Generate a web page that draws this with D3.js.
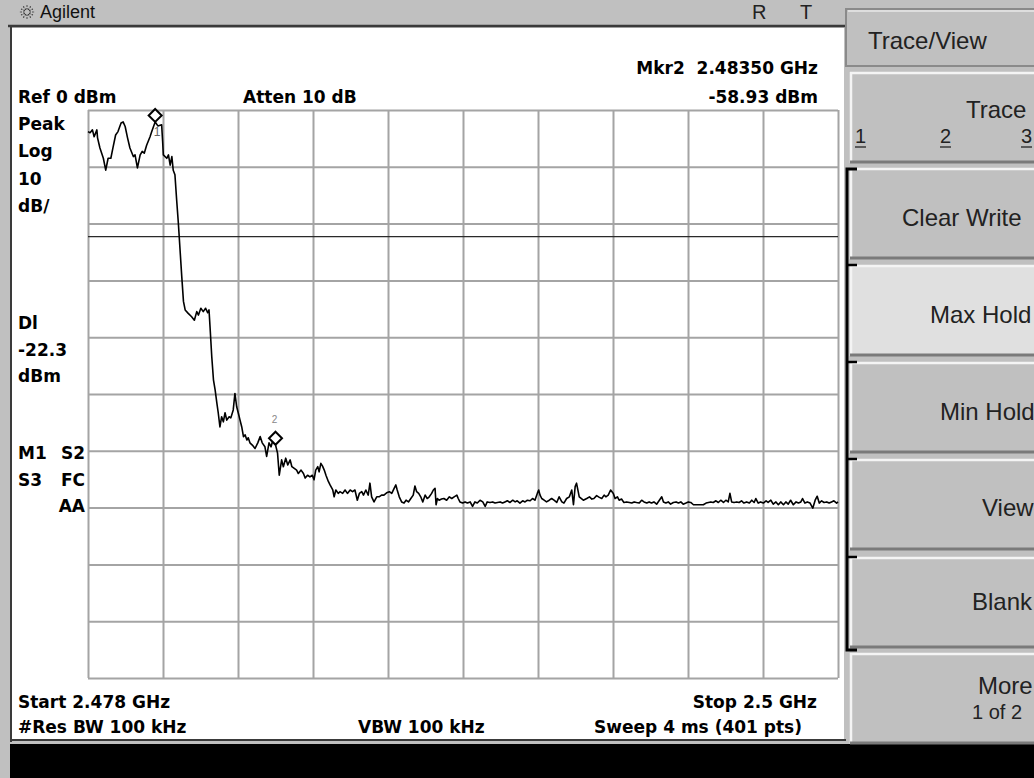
<!DOCTYPE html>
<html><head><meta charset="utf-8">
<script src="https://cdn.jsdelivr.net/npm/d3@7"></script>
<style>body{margin:0;background:#c0c0c0;overflow:hidden}svg{display:block}text{white-space:pre}</style>
</head><body><svg id="c" width="1034" height="778"></svg>
<script>
// ---- instrument settings ----
const startFreqMHz = 2478, stopFreqMHz = 2500;
const refLevelDbm = 0, dbPerDiv = 10, numDivs = 10;
const displayLineDbm = -22.3;

// ---- trace (frequency in MHz, level in dBm) ----
const traceFreqMHz = [
2478.00,2478.06,2478.13,2478.18,2478.26,2478.28,2478.35,2478.45,2478.52,2478.59,
2478.67,2478.73,2478.81,2478.88,2478.97,2479.03,2479.09,2479.16,2479.23,2479.33,
2479.38,2479.45,2479.53,2479.59,2479.65,2479.72,2479.82,2479.87,2479.97,2480.05,
2480.16,2480.19,2480.21,2480.31,2480.36,2480.41,2480.46,2480.50,2480.55,2480.60,
2480.65,2480.70,2480.75,2480.80,2480.85,2480.94,2481.04,2481.12,2481.19,2481.24,
2481.31,2481.38,2481.45,2481.51,2481.55,2481.58,2481.63,2481.68,2481.73,2481.78,
2481.82,2481.87,2481.92,2481.97,2482.02,2482.07,2482.14,2482.19,2482.26,2482.31,
2482.36,2482.41,2482.46,2482.51,2482.56,2482.61,2482.66,2482.70,2482.75,2482.82,
2482.90,2482.98,2483.05,2483.11,2483.19,2483.24,2483.31,2483.37,2483.41,2483.50,
2483.56,2483.61,2483.68,2483.73,2483.80,2483.86,2483.93,2483.98,2484.05,2484.12,
2484.17,2484.25,2484.32,2484.37,2484.44,2484.51,2484.58,2484.63,2484.68,2484.74,
2484.78,2484.83,2484.88,2484.93,2484.98,2485.05,2485.10,2485.18,2485.22,2485.27,
2485.34,2485.39,2485.47,2485.54,2485.61,2485.69,2485.76,2485.83,2485.90,2485.96,
2486.03,2486.08,2486.15,2486.22,2486.27,2486.32,2486.39,2486.47,2486.54,2486.61,
2486.68,2486.76,2486.84,2486.91,2486.98,2487.03,2487.07,2487.13,2487.20,2487.27,
2487.33,2487.40,2487.47,2487.54,2487.59,2487.64,2487.70,2487.76,2487.82,2487.89,
2487.95,2488.01,2488.08,2488.13,2488.18,2488.21,2488.25,2488.30,2488.37,2488.44,
2488.52,2488.60,2488.67,2488.74,2488.82,2488.86,2488.91,2488.99,2489.06,2489.13,
2489.21,2489.28,2489.35,2489.42,2489.50,2489.58,2489.65,2489.71,2489.79,2489.87,
2489.94,2490.01,2490.09,2490.16,2490.23,2490.30,2490.38,2490.46,2490.53,2490.59,
2490.67,2490.75,2490.82,2490.89,2490.97,2491.04,2491.11,2491.18,2491.22,2491.26,
2491.31,2491.38,2491.45,2491.53,2491.60,2491.67,2491.75,2491.82,2491.90,2491.96,
2492.04,2492.12,2492.19,2492.24,2492.29,2492.33,2492.41,2492.53,2492.63,2492.71,
2492.78,2492.84,2492.92,2493.00,2493.07,2493.14,2493.19,2493.26,2493.33,2493.37,
2493.41,2493.46,2493.53,2493.58,2493.65,2493.72,2493.80,2493.88,2493.95,2494.02,
2494.09,2494.17,2494.24,2494.31,2494.39,2494.46,2494.53,2494.60,2494.68,2494.76,
2494.83,2494.88,2494.95,2495.02,2495.09,2495.17,2495.25,2495.32,2495.39,2495.46,
2495.54,2495.61,2495.68,2495.76,2495.83,2495.90,2495.97,2496.05,2496.13,2496.20,
2496.27,2496.34,2496.42,2496.49,2496.56,2496.64,2496.71,2496.78,2496.83,2496.88,
2496.95,2497.03,2497.10,2497.17,2497.24,2497.32,2497.40,2497.47,2497.54,2497.59,
2497.66,2497.73,2497.81,2497.89,2497.95,2498.03,2498.10,2498.18,2498.25,2498.32,
2498.40,2498.47,2498.54,2498.61,2498.69,2498.77,2498.84,2498.91,2498.96,2499.03,
2499.10,2499.18,2499.26,2499.33,2499.39,2499.45,2499.52,2499.59,2499.67,2499.74,
2499.81,2499.88,2499.96,2500.00];
const traceLevelDbm = [
-3.8,-4.0,-3.5,-4.7,-3.5,-4.9,-6.7,-8.5,-10.6,-8.5,
-8.5,-6.7,-4.4,-3.8,-2.3,-2.1,-2.9,-4.9,-6.7,-8.2,
-7.9,-10.2,-7.9,-7.3,-7.6,-6.2,-4.7,-3.8,-2.1,-2.8,
-2.6,-5.6,-7.9,-8.5,-7.9,-9.7,-8.2,-10.6,-11.4,-15.8,
-19.9,-24.6,-29.3,-33.7,-35.2,-35.8,-36.4,-37.0,-35.5,-36.1,
-34.9,-35.5,-34.9,-35.7,-35.2,-38.2,-43.4,-47.5,-49.3,-51.6,
-53.3,-55.8,-54.0,-54.9,-53.3,-54.6,-54.0,-54.2,-52.8,-49.9,
-52.2,-53.4,-54.6,-55.8,-57.5,-57.2,-58.1,-57.7,-58.6,-59.0,
-59.6,-58.6,-57.5,-58.6,-59.3,-61.0,-58.6,-59.3,-58.4,-58.93,
-60.4,-64.3,-61.6,-62.8,-61.3,-62.5,-61.6,-62.8,-63.1,-63.4,
-64.0,-63.4,-64.0,-64.8,-64.3,-64.6,-64.3,-65.1,-63.4,-62.8,
-63.7,-62.2,-62.7,-63.4,-64.3,-65.4,-66.0,-66.9,-68.1,-66.9,
-67.5,-67.2,-67.5,-66.9,-67.5,-66.9,-67.2,-66.9,-68.7,-67.5,
-67.2,-67.8,-66.9,-67.8,-65.7,-68.1,-69.0,-68.1,-68.1,-67.8,
-67.8,-67.4,-67.2,-67.5,-66.6,-66.0,-66.9,-68.1,-69.0,-69.2,
-68.7,-69.0,-68.4,-67.8,-66.2,-67.2,-67.5,-68.1,-69.0,-67.8,
-68.4,-68.1,-67.5,-66.9,-66.6,-69.5,-68.4,-68.7,-68.5,-68.4,
-68.7,-68.1,-68.4,-68.1,-67.8,-68.4,-69.0,-69.2,-69.0,-69.2,
-69.0,-69.8,-69.0,-69.2,-68.7,-69.0,-69.8,-69.0,-69.1,-69.0,
-69.2,-69.1,-69.0,-69.2,-69.0,-68.8,-69.1,-68.7,-69.0,-68.8,
-69.2,-68.8,-69.0,-68.7,-68.8,-68.4,-68.7,-67.5,-66.9,-67.8,
-68.4,-68.7,-69.0,-68.7,-68.4,-68.7,-69.1,-68.1,-69.0,-69.2,
-68.4,-68.1,-66.9,-69.5,-66.3,-65.7,-68.1,-68.7,-68.4,-68.1,
-68.5,-68.4,-67.9,-68.2,-68.4,-67.8,-68.1,-67.8,-66.9,-67.2,
-67.5,-68.4,-68.1,-68.7,-68.5,-69.1,-69.0,-69.1,-69.2,-69.0,
-69.1,-69.2,-68.7,-69.0,-69.2,-69.0,-69.2,-69.0,-69.4,-68.7,
-68.1,-69.0,-69.2,-69.0,-69.4,-69.1,-69.0,-69.2,-69.0,-69.4,
-69.2,-69.0,-69.1,-69.5,-69.5,-69.5,-69.5,-69.5,-69.2,-69.1,
-69.0,-69.1,-68.8,-69.1,-68.7,-69.1,-68.7,-69.0,-67.5,-69.0,
-69.1,-69.0,-69.1,-68.8,-69.2,-69.0,-69.2,-68.7,-69.1,-68.4,
-69.2,-69.0,-69.2,-68.8,-69.1,-68.7,-69.4,-69.0,-69.5,-69.0,
-69.5,-69.0,-69.4,-68.7,-69.5,-69.0,-69.2,-69.0,-68.4,-69.2,
-69.0,-69.2,-70.1,-68.7,-68.0,-69.2,-68.8,-69.1,-69.0,-69.2,
-69.0,-68.8,-69.2,-69.0];

// ---- markers ----
const markerNames = ["1", "2"];
const markerFreqMHz = [2479.97, 2483.50];
const markerLevelDbm = [-2.1, -58.93];

// ---- annotation texts ----
const topRightLines = ["Mkr2  2.48350 GHz", "-58.93 dBm"];
const leftUpperLines = ["Peak", "Log", "10", "dB/"];
const leftDlLines = ["Dl", "-22.3", "dBm"];
const leftStatusRows = [["M1", "S2"], ["S3", "FC"], ["", "AA"]];
const bottomLeftLines = ["Start 2.478 GHz", "#Res BW 100 kHz"];
const softkeyTitle = "Trace/View";
const softkeyLabels = ["Trace", "Clear Write", "Max Hold", "Min Hold", "View", "Blank", "More"];
const traceNumbers = ["1", "2", "3"];

// ================= drawing =================
const svg = d3.select("#c");
const FONT_B = "'DejaVu Sans', sans-serif";
const FONT_K = "'Liberation Sans', Arial, sans-serif";
const x = d3.scaleLinear().domain([startFreqMHz, stopFreqMHz]).range([88, 838]);
const y = d3.scaleLinear().domain([refLevelDbm, refLevelDbm - dbPerDiv * numDivs]).range([110, 678]);

// frame
svg.append("rect").attr("width", 1034).attr("height", 778).attr("fill", "#c0c0c0");
svg.append("rect").attr("x", 12).attr("y", 28).attr("width", 832).attr("height", 712).attr("fill", "#ffffff");
svg.append("line").attr("x1", 8).attr("x2", 846).attr("y1", 26).attr("y2", 26).attr("stroke", "#3a3a3a").attr("stroke-width", 2.5);
svg.append("line").attr("x1", 11).attr("x2", 11).attr("y1", 26).attr("y2", 742).attr("stroke", "#3a3a3a").attr("stroke-width", 2);
svg.append("line").attr("x1", 10).attr("x2", 846).attr("y1", 740).attr("y2", 740).attr("stroke", "#3a3a3a").attr("stroke-width", 2);
svg.append("rect").attr("x", 10).attr("y", 744).attr("width", 1024).attr("height", 34).attr("fill", "#000");

// title bar
const logo = svg.append("g").attr("transform", "translate(27,12)");
d3.range(12).forEach(i => {
  const a = i * Math.PI / 6;
  logo.append("line").attr("x1", Math.cos(a) * 2.5).attr("y1", Math.sin(a) * 2.5)
    .attr("x2", Math.cos(a) * 8).attr("y2", Math.sin(a) * 7)
    .attr("stroke", "#333").attr("stroke-width", 1.1).attr("stroke-dasharray", "1.5,1.2");
});
svg.append("text").attr("x", 40).attr("y", 18).text("Agilent")
  .attr("font-family", FONT_K).attr("font-size", 18).attr("fill", "#111");
svg.append("text").attr("x", 752).attr("y", 19).text("R").attr("font-family", FONT_K).attr("font-size", 20).attr("fill", "#222");
svg.append("text").attr("x", 800).attr("y", 19).text("T").attr("font-family", FONT_K).attr("font-size", 20).attr("fill", "#222");

// graticule
const xTicks = d3.range(numDivs + 1).map(i => startFreqMHz + i * (stopFreqMHz - startFreqMHz) / numDivs);
const yTicks = d3.range(numDivs + 1).map(i => refLevelDbm - i * dbPerDiv);
const gx = svg.append("g").attr("transform", "translate(0,678)")
  .call(d3.axisTop(x).tickValues(xTicks).tickSize(568).tickSizeOuter(0).tickFormat(""));
const gy = svg.append("g").attr("transform", "translate(88,0)")
  .call(d3.axisRight(y).tickValues(yTicks).tickSize(750).tickSizeOuter(0).tickFormat(""));
[gx, gy].forEach(g => {
  g.select(".domain").remove();
  g.selectAll(".tick line").attr("stroke", "#a4a4a4").attr("stroke-width", 2);
});

// display line
svg.append("line").attr("x1", x(startFreqMHz)).attr("x2", x(stopFreqMHz))
  .attr("y1", y(displayLineDbm)).attr("y2", y(displayLineDbm))
  .attr("stroke", "#2a2a2a").attr("stroke-width", 1.3);

// trace
const tracePts = traceFreqMHz.map((f, i) => [f, traceLevelDbm[i]]);
svg.append("path").datum(tracePts)
  .attr("d", d3.line().x(d => x(d[0])).y(d => y(d[1])))
  .attr("fill", "none").attr("stroke", "#000").attr("stroke-width", 1.6).attr("stroke-linejoin", "round");

// markers
markerNames.forEach((m, i) => {
  const mx = x(markerFreqMHz[i]), my = y(markerLevelDbm[i]);
  const s = 6.5;
  svg.append("path")
    .attr("d", `M${mx},${my - 2 * s} L${mx + s},${my - s} L${mx},${my} L${mx - s},${my - s} Z`)
    .attr("fill", "#fff").attr("stroke", "#000").attr("stroke-width", 2);
  if (i === 0) {
    svg.append("text").attr("x", mx + 2).attr("y", my + 14).text(m)
      .attr("font-family", FONT_K).attr("font-size", 12).attr("fill", "#666").attr("text-anchor", "middle");
  } else {
    svg.append("text").attr("x", mx - 1).attr("y", my - 22).text(m)
      .attr("font-family", FONT_K).attr("font-size", 10).attr("fill", "#888").attr("text-anchor", "middle");
  }
});

// annotations
function ann(t, ax, ay, anchor) {
  svg.append("text").attr("x", ax).attr("y", ay).text(t)
    .attr("font-family", FONT_B).attr("font-weight", "bold").attr("font-size", 17)
    .attr("fill", "#000").attr("text-anchor", anchor || "start").attr("dominant-baseline", "central");
}
ann(topRightLines[0], 818, 68, "end");
ann("Ref 0 dBm", 18, 97);
ann("Atten 10 dB", 243, 97);
ann(topRightLines[1], 818, 97, "end");
leftUpperLines.forEach((t, i) => ann(t, 18, 124 + i * 27.3));
leftDlLines.forEach((t, i) => ann(t, 18, 323 + i * 26.5));
leftStatusRows.forEach((r, i) => { if (r[0]) ann(r[0], 18, 453 + i * 26.5); ann(r[1], 85, 453 + i * 26.5, "end"); });
ann(bottomLeftLines[0], 18, 702);
ann(bottomLeftLines[1], 18, 727);
ann("VBW 100 kHz", 358, 727);
ann("Stop 2.5 GHz", 817, 702, "end");
ann("Sweep 4 ms (401 pts)", 802, 727, "end");

// softkey panel
const hdr = svg.append("g");
hdr.append("rect").attr("x", 846).attr("y", 9).attr("width", 200).attr("height", 57).attr("fill", "#c0c0c0")
  .attr("stroke", "#8a8a8a").attr("stroke-width", 2);
hdr.append("line").attr("x1", 848).attr("x2", 1034).attr("y1", 11).attr("y2", 11).attr("stroke", "#e8e8e8").attr("stroke-width", 1.5);
hdr.append("text").attr("x", 868).attr("y", 49).text(softkeyTitle)
  .attr("font-family", FONT_K).attr("font-size", 24).attr("fill", "#222");

const keyTops = [72, 168, 265, 362, 459, 557, 653];
const keyH = 91;
const keyTextX = [966, 902, 930, 940, 982, 972, 978];
const keyTextY = [118, 226, 323, 420, 516, 610, 694];
softkeyLabels.forEach((lab, i) => {
  const t = keyTops[i];
  const g = svg.append("g");
  g.append("rect").attr("x", 850).attr("y", t).attr("width", 190).attr("height", keyH)
    .attr("fill", lab === "Max Hold" ? "#e0e0e0" : "#c0c0c0");
  g.append("line").attr("x1", 850).attr("x2", 1034).attr("y1", t + 1).attr("y2", t + 1).attr("stroke", "#f4f4f4").attr("stroke-width", 2.5);
  g.append("line").attr("x1", 851).attr("x2", 851).attr("y1", t).attr("y2", t + keyH).attr("stroke", "#f4f4f4").attr("stroke-width", 2.5);
  g.append("line").attr("x1", 850).attr("x2", 1034).attr("y1", t + keyH - 1).attr("y2", t + keyH - 1).attr("stroke", "#7a7a7a").attr("stroke-width", 3);
  g.append("text").attr("x", keyTextX[i]).attr("y", keyTextY[i]).text(lab)
    .attr("font-family", FONT_K).attr("font-size", 24).attr("fill", "#222");
});
// trace numbers under "Trace"
[855, 940, 1021].forEach((tx, i) => {
  svg.append("text").attr("x", tx).attr("y", 143).text(traceNumbers[i])
    .attr("font-family", FONT_K).attr("font-size", 20).attr("fill", "#222");
  svg.append("line").attr("x1", tx).attr("x2", tx + 11).attr("y1", 147).attr("y2", 147).attr("stroke", "#222").attr("stroke-width", 1.3);
});
svg.append("text").attr("x", 972).attr("y", 719).text("1 of 2")
  .attr("font-family", FONT_K).attr("font-size", 20).attr("fill", "#222");

// bracket for the radio group
const br = d3.path();
br.moveTo(857, 169); br.lineTo(847, 169); br.lineTo(847, 650); br.lineTo(857, 650);
svg.append("path").attr("d", br.toString()).attr("fill", "none").attr("stroke", "#000").attr("stroke-width", 3);
[265, 362, 459, 557].forEach(t => {
  svg.append("line").attr("x1", 847).attr("x2", 857).attr("y1", t).attr("y2", t).attr("stroke", "#000").attr("stroke-width", 2.5);
});
</script></body></html>
